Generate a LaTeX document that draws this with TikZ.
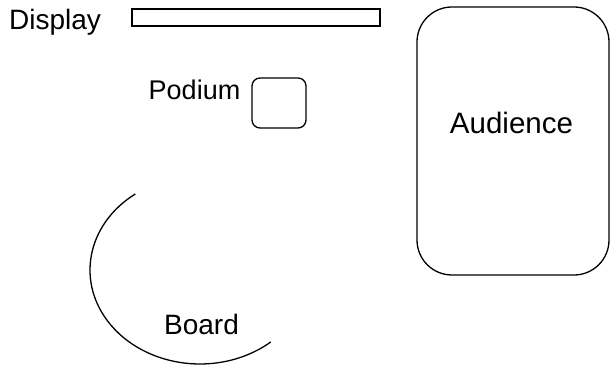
\documentclass[tikz,border=0pt]{standalone}
\usepackage{fontspec}
\setmainfont{Liberation Sans}
\begin{document}
\begin{tikzpicture}[x=1pt,y=1pt,
  outline/.style={draw=black,line width=1.3pt},
  label/.style={font=\fontsize{28}{32}\selectfont,anchor=base,inner sep=0pt}]
\useasboundingbox (0,0) rectangle (610,366);
% room furniture
\node[outline,inner sep=0pt,minimum width=248pt,minimum height=17pt] (display) at (256,348.5) {};
\node[outline,rounded corners=8pt,inner sep=0pt,minimum width=54pt,minimum height=50pt] (podium) at (279,263) {};
\node[outline,rounded corners=35pt,inner sep=0pt,minimum width=192pt,minimum height=268pt] (audience) at (513,225) {};
% whiteboard drawn as an open elliptical arc
\coordinate (boardc) at (200,96);
\draw[outline] ([shift={(126:110 and 94)}]boardc) arc[start angle=126,end angle=310,x radius=110,y radius=94];
% labels
\node[label] (displaytext) at (55,336.5) {Display};
\node[label,font=\fontsize{27}{31}\selectfont] (podiumtext) at (194.5,266.5) {Podium};
\node[label,font=\fontsize{29.5}{33}\selectfont] (audiencetext) at (511.5,232) {Audience};
\node[label] (boardtext) at (201.5,31.5) {Board};
\end{tikzpicture}
\end{document}
